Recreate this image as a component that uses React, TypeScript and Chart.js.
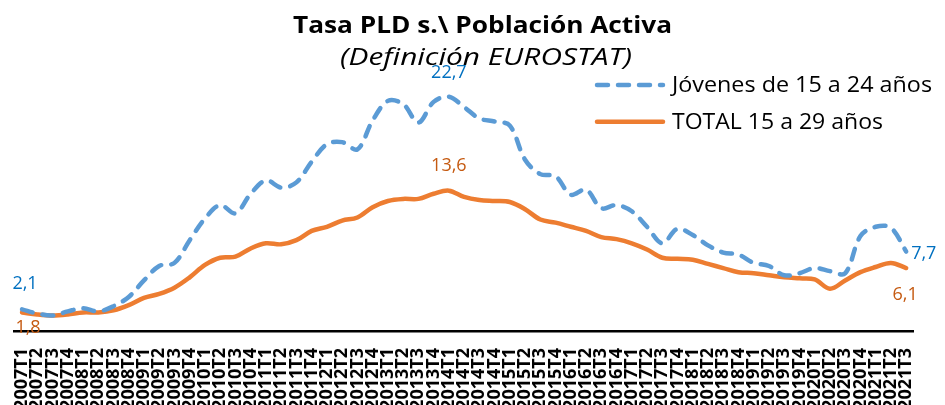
import React, { useEffect, useRef } from "react";
import { Chart, registerables } from "chart.js";

Chart.register(...registerables);

const quarterLabels: string[] = [
  "2007T1", "2007T2", "2007T3", "2007T4",
  "2008T1", "2008T2", "2008T3", "2008T4",
  "2009T1", "2009T2", "2009T3", "2009T4",
  "2010T1", "2010T2", "2010T3", "2010T4",
  "2011T1", "2011T2", "2011T3", "2011T4",
  "2012T1", "2012T2", "2012T3", "2012T4",
  "2013T1", "2013T2", "2013T3", "2013T4",
  "2014T1", "2014T2", "2014T3", "2014T4",
  "2015T1", "2015T2", "2015T3", "2015T4",
  "2016T1", "2016T2", "2016T3", "2016T4",
  "2017T1", "2017T2", "2017T3", "2017T4",
  "2018T1", "2018T2", "2018T3", "2018T4",
  "2019T1", "2019T2", "2019T3", "2019T4",
  "2020T1", "2020T2", "2020T3", "2020T4",
  "2021T1", "2021T2", "2021T3",
];

const jovenes15a24: number[] = [
  2.1, 1.7, 1.5, 1.9, 2.2, 1.9, 2.4, 3.3, 4.9, 6.3,
  6.6, 8.8, 10.9, 12.2, 11.4, 13.3, 14.6, 13.9, 14.4, 16.4,
  18.1, 18.3, 17.6, 20.4, 22.3, 22.0, 20.2, 22.2, 22.7, 21.7,
  20.6, 20.3, 19.9, 16.6, 15.2, 15.0, 13.2, 13.7, 11.9, 12.2,
  11.6, 10.1, 8.5, 9.9, 9.3, 8.3, 7.6, 7.4, 6.6, 6.3,
  5.4, 5.6, 6.1, 5.8, 5.6, 9.2, 10.1, 10.0, 7.7,
];

const total15a29: number[] = [
  1.8, 1.6, 1.5, 1.6, 1.8, 1.8, 2.0, 2.5, 3.2, 3.6,
  4.2, 5.2, 6.4, 7.1, 7.2, 8.0, 8.5, 8.4, 8.8, 9.7,
  10.1, 10.7, 11.0, 12.0, 12.6, 12.8, 12.8, 13.3, 13.6, 13.0,
  12.7, 12.6, 12.5, 11.8, 10.8, 10.5, 10.1, 9.7, 9.1, 8.9,
  8.5, 7.9, 7.1, 7.0, 6.9, 6.5, 6.1, 5.7, 5.6, 5.4,
  5.2, 5.1, 5.0, 4.1, 4.9, 5.7, 6.2, 6.6, 6.1,
];

const seriesNames: string[] = ["Jóvenes de 15 a 24 años", "TOTAL 15 a 29 años"];
const titleText = "Tasa PLD s.\\ Población Activa";
const subtitleText = "(Definición EUROSTAT)";

const FONT = "'Open Sans'";
const BLUE = "#5B9BD5";
const ORANGE = "#ED7D31";
const BLUE_TXT = "#0070C0";
const ORANGE_TXT = "#C55A11";

const fmt = (v: number) => v.toFixed(1).replace(".", ",");

// draw text horizontally fitted to a given width (the source chart is slightly stretched)
function drawFitted(ctx: CanvasRenderingContext2D, text: string, x: number, y: number, width: number, align: CanvasTextAlign) {
  ctx.save();
  ctx.textAlign = align;
  ctx.textBaseline = "alphabetic";
  const w = ctx.measureText(text).width || 1;
  ctx.translate(x, y);
  ctx.scale(width / w, 1);
  ctx.fillText(text, 0, 0);
  ctx.restore();
}

const titlePlugin = {
  id: "stretchedTitle",
  afterDraw(chart: any) {
    const ctx = chart.ctx;
    ctx.save();
    ctx.fillStyle = "#000";
    ctx.font = `bold 23px ${FONT}`;
    drawFitted(ctx, titleText, 482.5, 33, 379, "center");
    ctx.font = `italic 23px ${FONT}`;
    drawFitted(ctx, subtitleText, 486, 65, 292, "center");
    ctx.restore();
  },
};

// which points get a value label, and where it sits relative to the point
const valueLabelSpots = [
  { ds: 0, idx: 0, dx: 3, dy: -25, align: "center", color: BLUE_TXT },
  { ds: 1, idx: 0, dx: 6, dy: 15, align: "center", color: ORANGE_TXT },
  { ds: 0, idx: 28, dx: 0, dy: -24, align: "center", color: BLUE_TXT },
  { ds: 1, idx: 28, dx: 0, dy: -25, align: "center", color: ORANGE_TXT },
  { ds: 0, idx: 58, dx: 5, dy: 2, align: "left", color: BLUE_TXT },
  { ds: 1, idx: 58, dx: -1, dy: 27, align: "center", color: ORANGE_TXT },
];

const valueLabelPlugin = {
  id: "valueLabels",
  afterDatasetsDraw(chart: any) {
    const ctx = chart.ctx;
    ctx.save();
    ctx.font = `18px ${FONT}`;
    ctx.textBaseline = "middle";
    valueLabelSpots.forEach((s) => {
      const meta = chart.getDatasetMeta(s.ds);
      const pt = meta.data[s.idx];
      const v = chart.data.datasets[s.ds].data[s.idx] as number;
      ctx.fillStyle = s.color;
      ctx.textAlign = s.align;
      ctx.fillText(fmt(v), pt.x + s.dx, pt.y + s.dy);
    });
    ctx.restore();
  },
};

const legendPlugin = {
  id: "customLegend",
  afterDraw(chart: any) {
    const ctx = chart.ctx;
    const rows = [85, 121.7];
    const widths = [260, 211];
    chart.data.datasets.forEach((ds: any, i: number) => {
      const y = rows[i];
      ctx.save();
      ctx.strokeStyle = ds.borderColor;
      ctx.lineWidth = 4.5;
      ctx.lineCap = "round";
      ctx.setLineDash(ds.borderDash || []);
      ctx.beginPath();
      ctx.moveTo(597, y);
      ctx.lineTo(663, y);
      ctx.stroke();
      ctx.setLineDash([]);
      ctx.fillStyle = "#000";
      ctx.font = `21px ${FONT}`;
      drawFitted(ctx, ds.label, 672, y + 7, widths[i], "left");
      ctx.restore();
    });
  },
};

export default function App() {
  const canvasRef = useRef<HTMLCanvasElement | null>(null);

  useEffect(() => {
    if (!canvasRef.current) return;
    const chart = new Chart(canvasRef.current, {
      type: "line",
      data: {
        labels: quarterLabels,
        datasets: [
          {
            label: seriesNames[0],
            data: jovenes15a24,
            borderColor: BLUE,
            backgroundColor: BLUE,
            borderWidth: 4.5,
            borderDash: [11, 10],
            borderCapStyle: "round",
            pointRadius: 0,
            tension: 0.35,
            fill: false,
          },
          {
            label: seriesNames[1],
            data: total15a29,
            borderColor: ORANGE,
            backgroundColor: ORANGE,
            borderWidth: 4.5,
            borderCapStyle: "round",
            pointRadius: 0,
            tension: 0.35,
            fill: false,
          },
        ],
      },
      options: {
        responsive: false,
        animation: false,
        layout: { padding: { left: 14.4, right: 27.4, top: 73, bottom: 0 } },
        plugins: {
          legend: { display: false },
          tooltip: { enabled: false },
          title: { display: false },
        },
        scales: {
          x: {
            offset: true,
            grid: { display: false, drawTicks: false },
            border: { display: true, color: "#000", width: 2.5 },
            ticks: {
              autoSkip: false,
              maxRotation: 90,
              minRotation: 90,
              padding: 17,
              color: "#000",
              font: { family: FONT, size: 18, weight: "bold" },
            },
            afterFit: (scale: any) => {
              scale.height = 74;
            },
          },
          y: {
            display: false,
            min: 0,
            max: 25,
          },
        },
      },
      plugins: [valueLabelPlugin, legendPlugin, titlePlugin],
    } as any);
    return () => chart.destroy();
  }, []);

  return (
    <div style={{ position: "absolute", left: 0, top: 0, width: 945, height: 405, overflow: "hidden", background: "#fff" }}>
      <canvas ref={canvasRef} width={945} height={405} style={{ display: "block" }} />
    </div>
  );
}
